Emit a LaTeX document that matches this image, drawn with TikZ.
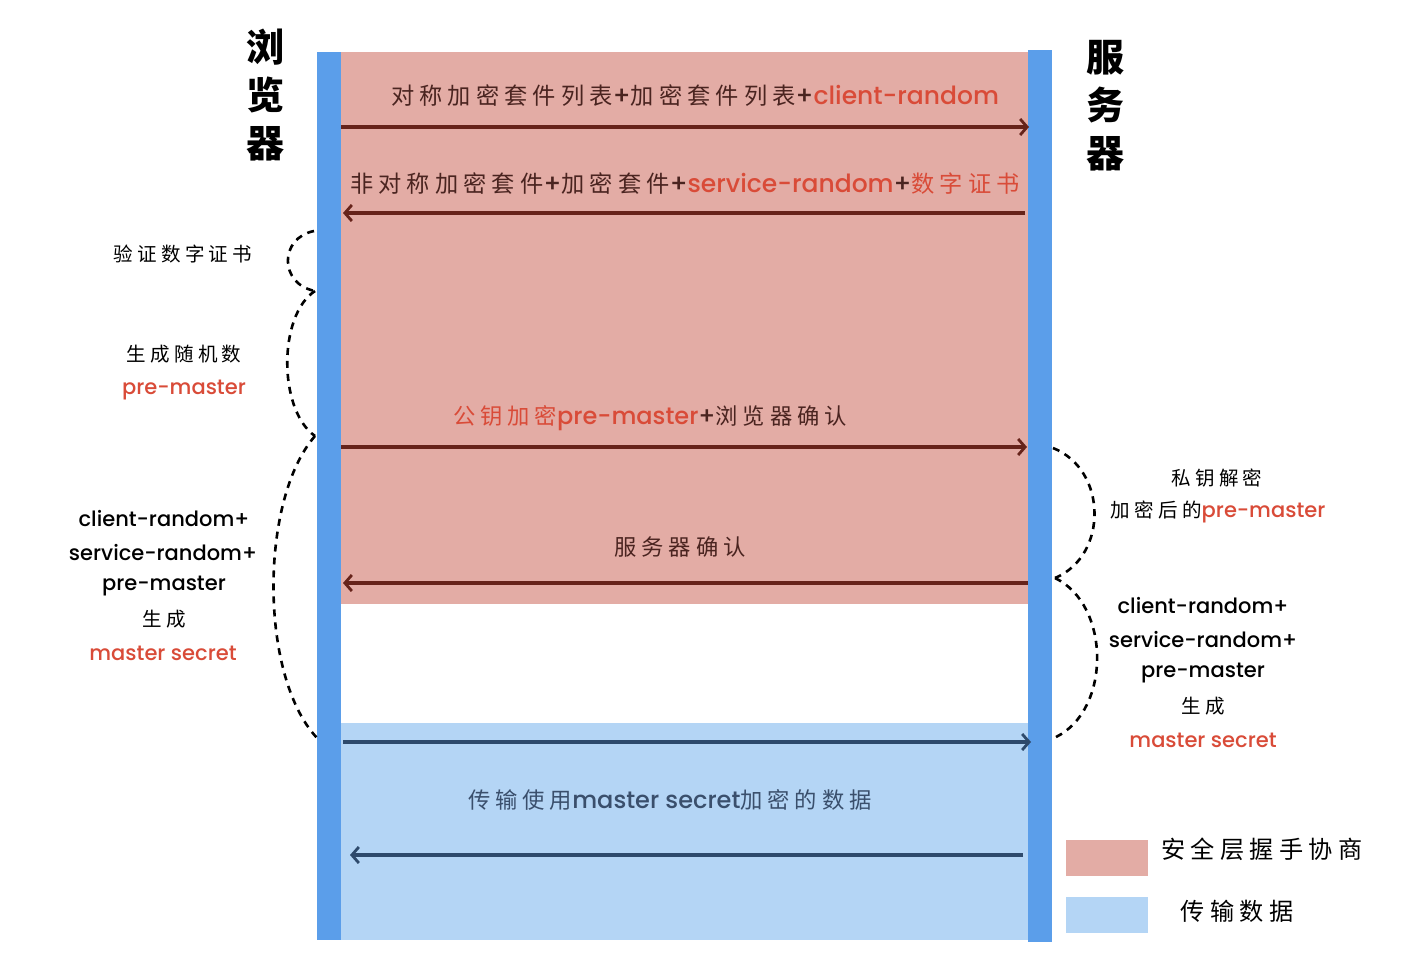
\documentclass[tikz,border=0pt]{standalone}
\usepackage{fontspec}
\usetikzlibrary{arrows.meta}
\setmainfont{Poppins}[UprightFont={* Medium}]
\newfontfamily\cjk[Scale=0.93,LetterSpace=22]{Noto Sans CJK SC}
\newfontfamily\cjktitle{Noto Sans CJK SC}
\newcommand{\zh}[1]{{\cjk #1}}
\definecolor{pinkbg}{HTML}{E3ACA5}
\definecolor{barblue}{HTML}{5B9EEA}
\definecolor{lightblue}{HTML}{B4D5F5}
\definecolor{arrowbrown}{HTML}{66231A}
\definecolor{arrowblue}{HTML}{2E4A6C}
\definecolor{redtxt}{HTML}{D94B38}
\definecolor{darktxt}{HTML}{4A2420}
\definecolor{bluetxt}{HTML}{3A4F6C}
\tikzset{
  msg/.style={line width=3.3pt, draw=arrowbrown, -{Straight Barb[length=7pt,width=16pt,line width=2.8pt]}},
  msgblue/.style={msg, draw=arrowblue},
  brace/.style={draw=black, line width=2.6pt, dash pattern=on 7pt off 6pt},
  txt/.style={inner sep=0pt, anchor=center, font=\fontsize{24}{28}\selectfont},
  side/.style={inner sep=0pt, anchor=center, font=\fontsize{21}{25}\selectfont, text=black},
  title/.style={inner sep=0pt, anchor=center, align=center, font=\cjktitle\fontsize{38}{48}\selectfont\bfseries, text=black},
}
\begin{document}
\begin{tikzpicture}[x=1pt,y=-1pt]
\useasboundingbox (0,0) rectangle (1420,954);
\fill[white] (0,0) rectangle (1420,954);
% regions
\fill[pinkbg] (341,52) rectangle (1028,604);
\fill[lightblue] (341,723) rectangle (1028,940);
% lifelines
\fill[barblue] (317,52) rectangle (341,940);
\fill[barblue] (1028,50) rectangle (1052,942);
% titles
\node[title] (browser) at (265,95) {浏\\览\\器};
\node[title] (server) at (1105,106) {服\\务\\器};
% arrow coordinates
\coordinate (a1s) at (341,127); \coordinate (a1e) at (1029,127);
\coordinate (a2s) at (1025,213); \coordinate (a2e) at (343,213);
\coordinate (a3s) at (341,447); \coordinate (a3e) at (1027,447);
\coordinate (a4s) at (1028,583); \coordinate (a4e) at (343,583);
\coordinate (a5s) at (343,742); \coordinate (a5e) at (1031,742);
\coordinate (a6s) at (1023,855); \coordinate (a6e) at (350,855);
\draw[msg] (a1s) -- (a1e);
\draw[msg] (a2s) -- (a2e);
\draw[msg] (a3s) -- (a3e);
\draw[msg] (a4s) -- (a4e);
\draw[msgblue] (a5s) -- (a5e);
\draw[msgblue] (a6s) -- (a6e);
% message labels
\node[txt, text=darktxt, font=\fontsize{25}{28}\selectfont] (m1) at (695,96) {\zh{对称加密套件列表}+\zh{加密套件列表}+\textcolor{redtxt}{client-random}};
\node[txt, text=darktxt, font=\fontsize{25}{28}\selectfont] (m2) at (685,184) {\zh{非对称加密套件}+\zh{加密套件}+\textcolor{redtxt}{service-random}+\textcolor{redtxt}{\zh{数字证书}}};
\node[txt, text=darktxt, font=\fontsize{24}{28}\selectfont] (m3) at (650,418) {\textcolor{redtxt}{\zh{公钥加密}pre-master}+\zh{浏览器确认}};
\node[txt, text=darktxt] (m4) at (680,547) {\zh{服务器确认}};
\node[txt, text=bluetxt, font=\fontsize{24}{28}\selectfont] (m5) at (670,800) {\zh{传输使用}master secret\zh{加密的数据}};
% left annotations
\node[side] (l0) at (183,254) {\zh{验证数字证书}};
\node[side] (l1) at (184,354) {\zh{生成随机数}};
\node[side, text=redtxt] (l2) at (184,390) {pre-master};
\node[side] (l3) at (164,518) {client-random+};
\node[side] (l4) at (163,552) {service-random+};
\node[side] (l5) at (164,586) {pre-master};
\node[side] (l6) at (164,619) {\zh{生成}};
\node[side, text=redtxt] (l7) at (163,653) {master secret};
% right annotations
\node[side] (r0) at (1217,478) {\zh{私钥解密}};
\node[side] (r1) at (1218,512) {\zh{加密后的}\textcolor{redtxt}{pre-master}};
\node[side] (r2) at (1203,605) {client-random+};
\node[side] (r3) at (1203,639) {service-random+};
\node[side] (r4) at (1203,673) {pre-master};
\node[side] (r5) at (1203,706) {\zh{生成}};
\node[side, text=redtxt] (r6) at (1203,740) {master secret};
% braces
\coordinate (b0) at (314,231);
\coordinate (b1) at (315,291);
\coordinate (b2) at (315,436);
\coordinate (b3) at (319,740);
\draw[brace] (b0) .. controls (279,238) and (279,284) .. (b1);
\draw[brace] (b1) .. controls (278,315) and (278,410) .. (b2);
\draw[brace] (b2) .. controls (259,500) and (259,680) .. (b3);
\coordinate (c0) at (1053,448);
\coordinate (c1) at (1055,578);
\coordinate (c2) at (1056,737);
\draw[brace] (c0) .. controls (1108,470) and (1108,556) .. (c1);
\draw[brace] (c1) .. controls (1111,605) and (1111,710) .. (c2);
% legend
\fill[pinkbg] (1066,840) rectangle (1148,876);
\fill[lightblue] (1066,897) rectangle (1148,933);
\node[side, font=\fontsize{26}{30}\selectfont] (lg1) at (1262,849) {\zh{安全层握手协商}};
\node[side, font=\fontsize{26}{30}\selectfont] (lg2) at (1237,911) {\zh{传输数据}};
\end{tikzpicture}
\end{document}
